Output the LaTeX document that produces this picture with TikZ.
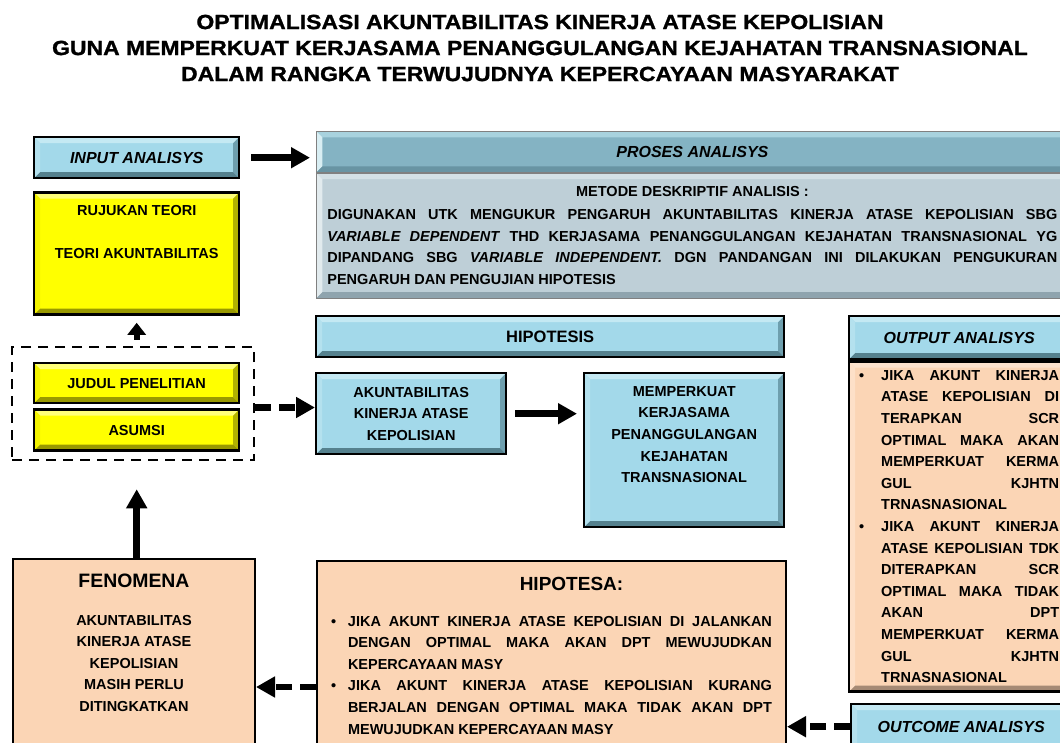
\documentclass[tikz,border=0pt]{standalone}
\usepackage{fontspec}
\setmainfont{Liberation Sans}
\newfontfamily\titlefont[FakeStretch=1.12,FakeBold=1.2]{Liberation Sans}
\usepackage{xcolor}
\usepackage{tikz}
\usetikzlibrary{positioning,arrows.meta,fit}

\definecolor{skyfill}{HTML}{A3D9EA}
\definecolor{skytop}{HTML}{C4E9F3}
\definecolor{skyleft}{HTML}{B4E1EE}
\definecolor{skyright}{HTML}{6E9FAE}
\definecolor{skybottom}{HTML}{55818E}
\definecolor{lemon}{HTML}{FFFF00}
\definecolor{lemontop}{HTML}{FFFF7A}
\definecolor{lemonleft}{HTML}{F2F200}
\definecolor{lemonright}{HTML}{B3B300}
\definecolor{lemonbottom}{HTML}{999900}
\definecolor{peach}{HTML}{FBD5B5}
\definecolor{peachtop}{HTML}{FDE3CE}
\definecolor{peachleft}{HTML}{FDE0C8}
\definecolor{peachright}{HTML}{C8A78B}
\definecolor{peachbottom}{HTML}{A58A75}
\definecolor{tealhead}{HTML}{84B3C3}
\definecolor{tealtop}{HTML}{A8D2DE}
\definecolor{tealleft}{HTML}{D8EEF3}
\definecolor{tealbottom}{HTML}{6894A3}
\definecolor{slate}{HTML}{BECFD7}
\definecolor{slatetop}{HTML}{D3E0E5}
\definecolor{slateleft}{HTML}{E2EBEE}
\definecolor{slatebottom}{HTML}{8FA4AE}

% four bevel strips: top, left, right, bottom
\newcommand\bevelface[4]{%
  \fill[#1] (path picture bounding box.north west) -- (path picture bounding box.north east)
    -- ([xshift=-6pt,yshift=-6pt]path picture bounding box.north east)
    -- ([xshift=6pt,yshift=-6pt]path picture bounding box.north west) -- cycle;
  \fill[#2] (path picture bounding box.north west) -- ([xshift=6pt,yshift=-6pt]path picture bounding box.north west)
    -- ([xshift=6pt,yshift=6pt]path picture bounding box.south west) -- (path picture bounding box.south west) -- cycle;
  \fill[#3] (path picture bounding box.north east) -- (path picture bounding box.south east)
    -- ([xshift=-6pt,yshift=6pt]path picture bounding box.south east)
    -- ([xshift=-6pt,yshift=-6pt]path picture bounding box.north east) -- cycle;
  \fill[#4] (path picture bounding box.south west) -- ([xshift=6pt,yshift=6pt]path picture bounding box.south west)
    -- ([xshift=-6pt,yshift=6pt]path picture bounding box.south east) -- (path picture bounding box.south east) -- cycle;
}

\begin{document}
\begin{tikzpicture}[x=1pt,y=-1pt,
		bodytext/.style={font=\bfseries\fontsize{14.5}{21.6}\selectfont},
		headtext/.style={font=\bfseries\itshape\fontsize{16}{19}\selectfont},
		bevelblue/.style={draw=black,line width=2.4pt,fill=skyfill,align=center,bodytext,
			path picture={\bevelface{skytop}{skyleft}{skyright}{skybottom}}},
		bevelyellow/.style={draw=black,line width=2.4pt,fill=lemon,align=center,bodytext,
			path picture={\bevelface{lemontop}{lemonleft}{lemonright}{lemonbottom}}},
		bevelpeach/.style={draw=black,line width=2.4pt,fill=peach,bodytext,
			path picture={\bevelface{peachtop}{peachleft}{peachright}{peachbottom}}},
		bevelteal/.style={draw=gray,line width=0.8pt,fill=tealhead,align=center,
			path picture={\bevelface{tealtop}{tealleft}{tealhead!80!black}{tealbottom}}},
		bevelslate/.style={draw=gray,line width=0.8pt,fill=slate,bodytext,
			path picture={\bevelface{slatetop}{slateleft}{slate!80!black}{slatebottom}}},
		plainpeach/.style={draw=black,line width=2pt,fill=peach,align=center,bodytext},
		arr/.style={line width=6.5pt,-{Triangle[length=19pt,width=20pt]}},
		dasharr/.style={arr,dash pattern=on 16pt off 8pt},
		dashframe/.style={draw,line width=2.5pt,dash pattern=on 10pt off 7pt,inner sep=0pt}
		]
		\clip (0,0) rectangle (1060,742);

		\node[align=center,font=\titlefont\bfseries\fontsize{20.5}{26}\selectfont] (title) at (540,48)
			{OPTIMALISASI AKUNTABILITAS KINERJA ATASE KEPOLISIAN\\
			GUNA MEMPERKUAT KERJASAMA PENANGGULANGAN KEJAHATAN TRANSNASIONAL\\
			DALAM RANGKA TERWUJUDNYA KEPERCAYAAN MASYARAKAT};

		% left column
		\node[bevelblue,headtext,anchor=north west,minimum width=205,minimum height=41] (input) at (33,136) {INPUT ANALISYS};
		\node[bevelyellow,below=12pt of input,minimum width=205,minimum height=122] (rujukan)
			{RUJUKAN TEORI\\[21.4pt]TEORI AKUNTABILITAS\\[21.4pt]\mbox{}};
		\node[bevelyellow,anchor=north west,minimum width=205,minimum height=40] (judul) at (33,362) {JUDUL PENELITIAN};
		\node[bevelyellow,below=4pt of judul,minimum width=205,minimum height=41] (asumsi) {ASUMSI};
		\node[dashframe,fit={(12,347) (254,460)}] (frame) {};
		\node[plainpeach,anchor=north west,minimum width=242,minimum height=200] (fenomena) at (12,558)
			{{\fontsize{19.4}{23}\selectfont FENOMENA}\\[16.3pt]AKUNTABILITAS\\KINERJA ATASE\\KEPOLISIAN\\MASIH PERLU\\DITINGKATKAN\\[11.3pt]\mbox{}};

		% proses
		\node[bevelteal,headtext,anchor=north west,minimum width=752,minimum height=41] (proseshead) at (316,131) {PROSES ANALISYS};
		\node[bevelslate,below=0pt of proseshead,minimum width=752,minimum height=125,text width=730,align=justify] (prosesbody)
			{{\centering METODE DESKRIPTIF ANALISIS :\par}\vspace{1.4pt}
			DIGUNAKAN UTK MENGUKUR PENGARUH AKUNTABILITAS KINERJA ATASE KEPOLISIAN SBG\linebreak
			\textit{VARIABLE DEPENDENT} THD KERJASAMA PENANGGULANGAN KEJAHATAN TRANSNASIONAL YG\linebreak
			DIPANDANG SBG \textit{VARIABLE INDEPENDENT.} DGN PANDANGAN INI DILAKUKAN PENGUKURAN\linebreak
			PENGARUH DAN PENGUJIAN HIPOTESIS\par};

		% hipotesis
		\node[bevelblue,anchor=north west,minimum width=468,minimum height=41,font=\bfseries\fontsize{16.5}{20}\selectfont] (hipotesis) at (315,315) {HIPOTESIS};
		\node[bevelblue,anchor=north west,minimum width=190,minimum height=81] (akuntab) at (315,372)
			{AKUNTABILITAS\\KINERJA ATASE\\KEPOLISIAN};
		\node[bevelblue,anchor=north west,minimum width=200,minimum height=154] (perkuat) at (583,372)
			{MEMPERKUAT\\KERJASAMA\\PENANGGULANGAN\\KEJAHATAN\\TRANSNASIONAL\\[9.6pt]\mbox{}};

		% output
		\node[bevelblue,headtext,anchor=north west,minimum width=220,minimum height=43] (outhead) at (848,315) {OUTPUT ANALISYS};
		\node[bevelpeach,below=0pt of outhead,minimum width=220,minimum height=330,text width=200,align=justify] (outbody)
			{\hangindent=22pt\hangafter=1\noindent\makebox[22pt][l]{\textbullet}JIKA AKUNT KINERJA\linebreak
			ATASE KEPOLISIAN DI\linebreak TERAPKAN SCR\linebreak OPTIMAL MAKA AKAN\linebreak
			MEMPERKUAT KERMA\linebreak GUL KJHTN\linebreak TRNASNASIONAL\par
			\hangindent=22pt\hangafter=1\noindent\makebox[22pt][l]{\textbullet}JIKA AKUNT KINERJA\linebreak
			ATASE KEPOLISIAN TDK\linebreak DITERAPKAN SCR\linebreak OPTIMAL MAKA TIDAK\linebreak
			AKAN DPT\linebreak MEMPERKUAT KERMA\linebreak GUL KJHTN\linebreak TRNASNASIONAL\par};
		\node[bevelblue,headtext,anchor=north west,minimum width=220,minimum height=45] (outcome) at (850,703) {OUTCOME ANALISYS};

		% hipotesa
		\node[plainpeach,anchor=north west,minimum width=469,text width=441,inner ysep=16pt,align=justify] (hipotesa) at (316,560)
			{{\centering\fontsize{19}{23}\selectfont\hspace*{40pt}HIPOTESA:\par}\vspace{14.3pt}
			\hangindent=17pt\hangafter=1\noindent\makebox[17pt][l]{\textbullet}JIKA AKUNT KINERJA ATASE KEPOLISIAN DI JALANKAN\linebreak
			DENGAN OPTIMAL MAKA AKAN DPT MEWUJUDKAN\linebreak KEPERCAYAAN MASY\par
			\hangindent=17pt\hangafter=1\noindent\makebox[17pt][l]{\textbullet}JIKA AKUNT KINERJA ATASE KEPOLISIAN KURANG\linebreak
			BERJALAN DENGAN OPTIMAL MAKA TIDAK AKAN DPT\linebreak MEWUJUDKAN KEPERCAYAAN MASY\par};

		% connectors
		\draw[arr,shorten <=11pt,shorten >=6pt] (input.east) -- (input.east -| proseshead.west);
		\draw[arr,line width=6pt,-{Triangle[length=12pt,width=18pt]},shorten <=6pt,shorten >=7pt]
			(frame.north -| rujukan.south) -- (rujukan.south);
		\draw[arr,shorten >=28pt] (fenomena.north -| rujukan.south) -- (frame.south -| rujukan.south);
		\draw[dasharr] ([yshift=-4pt]frame.east) -- ([yshift=-4pt]frame.east -| akuntab.west);
		\draw[arr,shorten <=8pt,shorten >=6pt] (akuntab.east) -- (akuntab.east -| perkuat.west);
		\draw[dasharr] (outcome.west) -- (outcome.west -| hipotesa.east);
		\draw[dasharr] (hipotesa.west |- 0,687) -- (fenomena.east |- 0,687);

	\end{tikzpicture}
\end{document}
